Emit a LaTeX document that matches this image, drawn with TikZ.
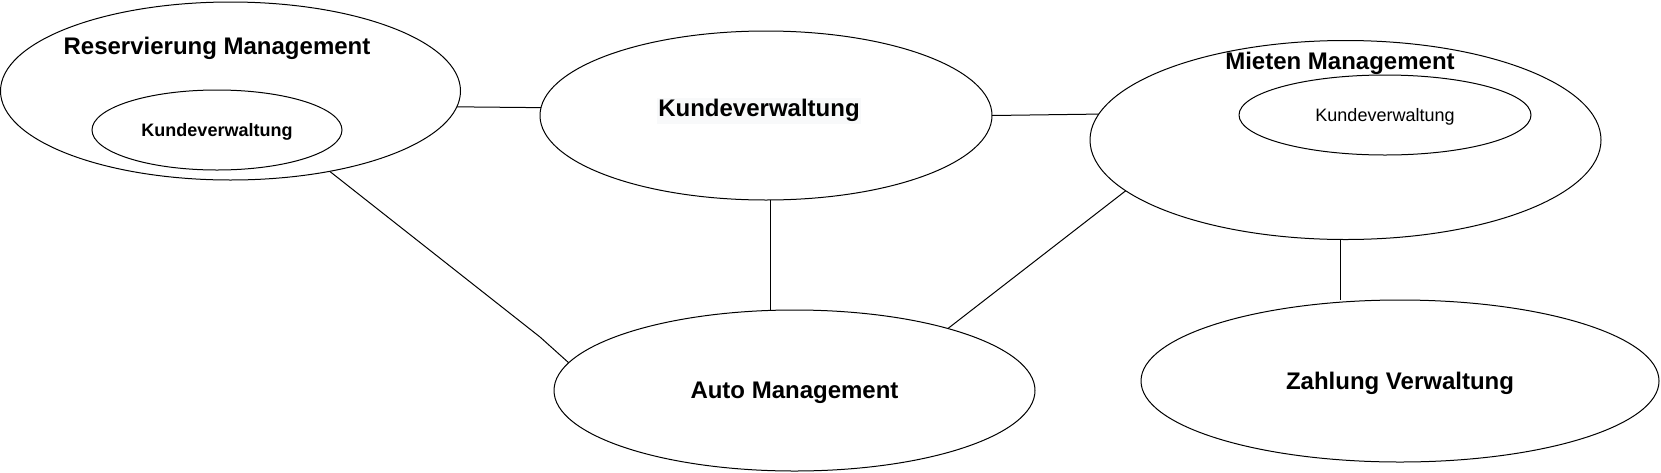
\documentclass[tikz,border=0pt]{standalone}
\usepackage{fontspec}
\setmainfont{Liberation Sans}
\usetikzlibrary{shapes.geometric}
\definecolor{hlgray}{RGB}{248,249,250}

\begin{document}
\begin{tikzpicture}[x=1pt, y=-1pt, line width=1pt,
	bubble/.style={ellipse, draw, inner sep=0pt, outer sep=0pt},
	bigtxt/.style={font=\fontsize{24}{28}\selectfont\bfseries, text depth=0pt},
	smalltxt/.style={font=\fontsize{18}{21}\selectfont, text depth=0pt},
	smallbold/.style={font=\fontsize{18}{21}\selectfont\bfseries, text depth=0pt}]
	\useasboundingbox (0,0) rectangle (1661,472);
	\node (RM) at ( 230.5,  91.0)	[bubble, minimum width=460pt, minimum height=178pt]	{};
	\node (RMt) at ( 217.0,  46.0)	[bigtxt]	{Reservierung Management};
	\node (RK) at ( 217.0, 130.0)	[bubble, smallbold, minimum width=250pt, minimum height=80pt]	{Kundeverwaltung};
	\node (KV) at ( 766.0, 115.5)	[bubble, minimum width=452pt, minimum height=169pt]	{};
	\node (KVt) at ( 759.0, 111.0)	[bigtxt, fill=hlgray, inner sep=1pt, text depth=6pt]	{Kundeverwaltung};
	\node (MM) at (1345.5, 140.0)	[bubble, minimum width=511pt, minimum height=199pt]	{};
	\node (MMt) at (1340.0,  61.0)	[bigtxt]	{Mieten Management};
	\node (MK) at (1385.0, 115.0)	[bubble, smalltxt, minimum width=292pt, minimum height=80pt]	{Kundeverwaltung};
	\node (AM) at ( 794.5, 390.5)	[bubble, bigtxt, minimum width=481pt, minimum height=161pt]	{Auto Management};
	\node (ZV) at (1400.0, 381.0)	[bubble, bigtxt, minimum width=518pt, minimum height=162pt]	{Zahlung Verwaltung};
	\coordinate (bendRA) at (540, 337);
	\draw (RM.-4) -- (KV.178);
	\draw (KV.0) -- (MM.174);
	\draw (KV.-87) -- (KV.-87 |- AM.north);
	\draw (RM.-39) -- (bendRA) -- (AM.173);
	\draw (MM.193) -- (AM.22);
	\draw (MM.-93) -- (MM.-93 |- ZV.north);
\end{tikzpicture}
\end{document}
